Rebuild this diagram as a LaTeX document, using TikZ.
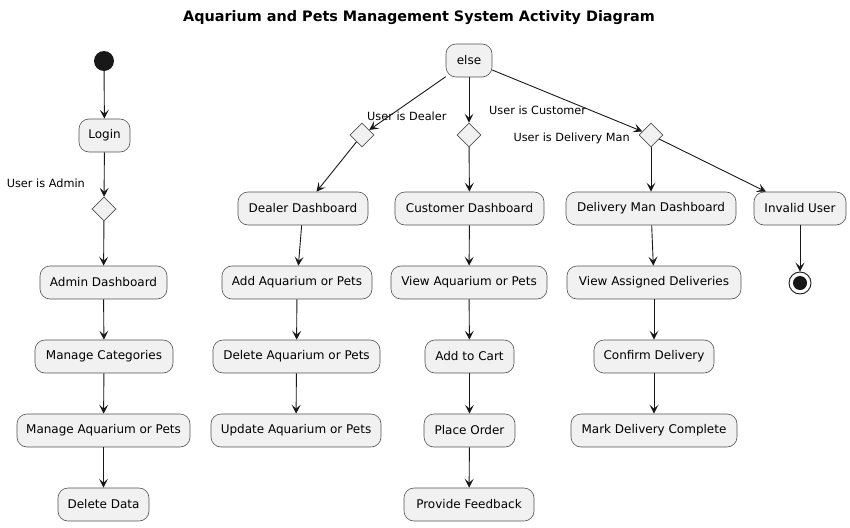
\documentclass[tikz,border=0pt]{standalone}
\usepackage{fontspec}
\setmainfont{DejaVu Sans}
\usetikzlibrary{shapes.geometric,arrows.meta}
\definecolor{boxfill}{HTML}{F1F1F1}
\definecolor{linec}{HTML}{181818}
\begin{document}
\begin{tikzpicture}[x=1pt,y=-1pt,
  act/.style={rectangle,rounded corners=10pt,draw=linec!75,line width=0.6pt,fill=boxfill,minimum height=33pt,inner sep=0pt,font=\fontsize{12}{14}\selectfont},
  dec/.style={diamond,draw=linec!75,line width=0.6pt,fill=boxfill,minimum width=24pt,minimum height=24pt,inner sep=0pt},
  lab/.style={font=\fontsize{11.3}{13}\selectfont,inner sep=0pt},
  flow/.style={draw=linec,line width=0.9pt,-{Stealth[length=9pt,width=9pt,inset=4pt]}}
]
\useasboundingbox (0,0) rectangle (850,527);
\node[font=\bfseries\fontsize{14.4}{16}\selectfont] (title) at (419,18) {Aquarium and Pets Management System Activity Diagram};

% left column
\node[circle,fill=linec,minimum size=20pt,inner sep=0pt] (start) at (104,61) {};
\node[act,minimum width=51pt] (login) at (104.5,135.5) {Login};
\node[dec] (dadmin) at (104,209) {};
\node[lab,anchor=east] (ladmin) at (85,183) {User is Admin};
\node[act,minimum width=127pt] (admin) at (103.5,282.5) {Admin Dashboard};
\node[act,minimum width=138pt] (mcat) at (104,356.5) {Manage Categories};
\node[act,minimum width=173pt] (maq) at (103.5,430.5) {Manage Aquarium or Pets};
\node[act,minimum width=91pt] (del) at (103.5,504.5) {Delete Data};

% else
\node[act,minimum width=46pt] (else) at (469,60.5) {else};
\node[dec] (ddeal) at (362,135) {};
\node[dec] (dcust) at (469,135) {};
\node[dec] (ddeliv) at (651,135) {};
\node[lab,anchor=west] (ldeal) at (367,116) {User is Dealer};
\node[lab,anchor=west] (lcust) at (489,110) {User is Customer};
\node[lab,anchor=east] (ldeliv) at (630,138) {User is Delivery Man};

% dealer
\node[act,minimum width=130pt] (dealer) at (303,208.5) {Dealer Dashboard};
\node[act,minimum width=150pt] (addaq) at (297,282.5) {Add Aquarium or Pets};
\node[act,minimum width=167pt] (delaq) at (296.5,356.5) {Delete Aquarium or Pets};
\node[act,minimum width=170pt] (updaq) at (296,430.5) {Update Aquarium or Pets};

% customer
\node[act,minimum width=149pt] (cust) at (469.5,208.5) {Customer Dashboard};
\node[act,minimum width=156pt] (viewaq) at (469,282.5) {View Aquarium or Pets};
\node[act,minimum width=89pt] (cart) at (469.5,356.5) {Add to Cart};
\node[act,minimum width=91pt] (order) at (469.5,430.5) {Place Order};
\node[act,minimum width=130pt] (feed) at (469,504.5) {Provide Feedback};

% delivery
\node[act,minimum width=170pt] (deliv) at (651,208.5) {Delivery Man Dashboard};
\node[act,minimum width=174pt] (assign) at (654,282.5) {View Assigned Deliveries};
\node[act,minimum width=120pt] (conf) at (654,356.5) {Confirm Delivery};
\node[act,minimum width=166pt] (mark) at (654,430.5) {Mark Delivery Complete};

% invalid
\node[act,minimum width=92pt] (inv) at (800,208.5) {Invalid User};
\node[circle,draw=linec,line width=0.9pt,fill=white,minimum size=22pt,inner sep=0pt] (stop) at (800,283) {};
\node[circle,fill=linec,minimum size=14pt,inner sep=0pt] (stopin) at (800,283) {};

% edges
\draw[flow] (start) -- (login);
\draw[flow] (login) -- (dadmin);
\draw[flow] (dadmin) -- (admin);
\draw[flow] (admin) -- (mcat);
\draw[flow] (mcat) -- (maq);
\draw[flow] (maq) -- (del);

\draw[flow] (else) -- (ddeal);
\draw[flow] (else) -- (dcust);
\draw[flow] (else) -- (ddeliv);

\draw[flow] (ddeal) -- (dealer);
\draw[flow] (dealer) -- (addaq);
\draw[flow] (addaq) -- (delaq);
\draw[flow] (delaq) -- (updaq);

\draw[flow] (dcust) -- (cust);
\draw[flow] (cust) -- (viewaq);
\draw[flow] (viewaq) -- (cart);
\draw[flow] (cart) -- (order);
\draw[flow] (order) -- (feed);

\draw[flow] (ddeliv) -- (deliv);
\draw[flow] (ddeliv) -- (inv);
\draw[flow] (deliv) -- (assign);
\draw[flow] (assign) -- (conf);
\draw[flow] (conf) -- (mark);

\draw[flow] (inv) -- (stop);
\end{tikzpicture}
\end{document}
